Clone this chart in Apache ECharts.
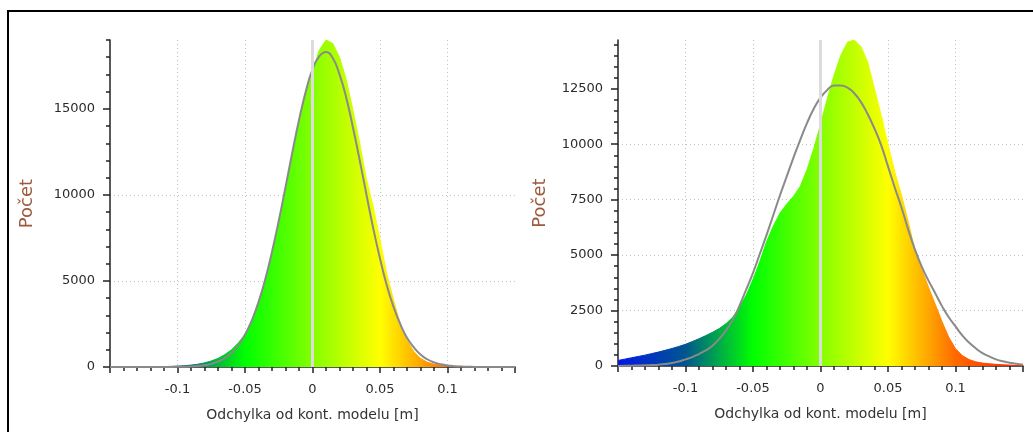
<!DOCTYPE html>
<html>
<head>
<meta charset="utf-8">
<script src="https://cdn.jsdelivr.net/npm/echarts@6/dist/echarts.min.js"></script>
<style>
  html, body { margin: 0; padding: 0; background: #fff; }
  #main { width: 1033px; height: 432px; }
</style>
</head>
<body>
<div id="main"></div>
<script>
var chartDom = document.getElementById('main');
var myChart = echarts.init(chartDom);
var option;

// bin centres [m], shared by both histograms
var binCenters = [
  -0.15, -0.145, -0.14, -0.135, -0.13, -0.125, -0.12, -0.115, -0.11, -0.105,
  -0.1, -0.095, -0.09, -0.085, -0.08, -0.075, -0.07, -0.065, -0.06, -0.055,
  -0.05, -0.045, -0.04, -0.035, -0.03, -0.025, -0.02, -0.015, -0.01, -0.005,
  0,
  0.005, 0.01, 0.015, 0.02, 0.025, 0.03, 0.035, 0.04, 0.045, 0.05,
  0.055, 0.06, 0.065, 0.07, 0.075, 0.08, 0.085, 0.09, 0.095, 0.1,
  0.105, 0.11, 0.115, 0.12, 0.125, 0.13, 0.135, 0.14, 0.145, 0.15
];

// left chart
var leftCounts = [
  1, 2, 3, 4, 6, 9, 12, 18, 25, 35,
  50, 75, 110, 160, 240, 350, 500, 720, 1000, 1400,
  1900, 2700, 3750, 5000, 6600, 8300, 10300, 12300, 14200, 15900,
  17200,
  18400, 19000, 18800, 18000, 16700, 14900, 13000, 10900, 9300, 7400,
  5400, 3900, 2500, 1550, 900, 500, 280, 160, 100, 65,
  45, 32, 22, 16, 11, 8, 6, 4, 3, 2
];
var leftFit = [
  0, 0, 0, 0, 0, 0, 1, 2, 3, 5,
  8, 16, 30, 60, 100, 180, 310, 510, 810, 1250,
  1870, 2700, 3770, 5100, 6700, 8500, 10450, 12450, 14350, 16000,
  17300,
  18050, 18300, 17950, 17000, 15650, 13900, 12000, 10000, 8050, 6300,
  4750, 3500, 2500, 1700, 1150, 730, 450, 270, 160, 90,
  50, 25, 15, 7, 3, 2, 1, 0, 0, 0
];

// right chart
var rightCounts = [
  250, 310, 370, 430, 490, 560, 630, 710, 790, 880,
  980, 1100, 1230, 1370, 1520, 1690, 1910, 2200, 2650, 3200,
  3900, 4700, 5600, 6300, 6900, 7300, 7650, 8100, 8850, 9800,
  10900,
  12050, 13100, 14000, 14600, 14700, 14400, 13700, 12500, 11300, 10000,
  8750, 7700, 6500, 5200, 4350, 3550, 2780, 2000, 1300, 780,
  470, 290, 190, 130, 100, 75, 55, 40, 25, 15
];
var rightFit = [
  5, 10, 15, 22, 30, 45, 60, 90, 140, 200,
  300, 400, 540, 700, 915, 1220, 1600, 2080, 2720, 3450,
  4200, 5050, 5900, 6800, 7700, 8550, 9400, 10200, 10950, 11600,
  12100,
  12450, 12650, 12650, 12550, 12300, 11900, 11350, 10700, 9950, 9000,
  8050, 7150, 6150, 5250, 4480, 3850, 3280, 2700, 2200, 1790,
  1380, 1060, 800, 580, 430, 300, 210, 150, 100, 60
];

// y axis ticks
var leftMax = 19000;
var leftLabels = [0, 5000, 10000, 15000];
var leftMinor = [0, 1000, 2000, 3000, 4000, 5000, 6000, 7000, 8000, 9000, 10000,
  11000, 12000, 13000, 14000, 15000, 16000, 17000, 18000, 19000];
var rightMax = 14700;
var rightLabels = [0, 2500, 5000, 7500, 10000, 12500];
var rightMinor = [0, 500, 1000, 1500, 2000, 2500, 3000, 3500, 4000, 4500, 5000,
  5500, 6000, 6500, 7000, 7500, 8000, 8500, 9000, 9500, 10000, 10500, 11000,
  11500, 12000, 12500, 13000, 13500, 14000, 14500];

var font = 'DejaVu Sans';
var axisColor = '#222';
var gridDots = { color: '#c2c2c2', width: 1, type: [1, 3] };

function pairs(ys) {
  return binCenters.map(function (x, i) {
    return [x, ys[i]];
  });
}

function plain(value) {
  return String(value);
}

function xAxisFor(gridIndex) {
  return {
    type: 'value',
    gridIndex: gridIndex,
    min: -0.15,
    max: 0.15,
    interval: 0.05,
    axisLine: { onZero: false, lineStyle: { color: axisColor, width: 1.5 } },
    axisTick: { length: 6, lineStyle: { color: axisColor, width: 1.5 } },
    minorTick: { show: true, splitNumber: 5, length: 4, lineStyle: { color: axisColor, width: 1.5 } },
    axisLabel: { showMinLabel: false, showMaxLabel: false, margin: 16, color: '#2b2b2b', fontSize: 13, fontFamily: font, formatter: plain },
    splitLine: { show: true, showMinLine: false, showMaxLine: false, lineStyle: gridDots },
    minorSplitLine: { show: false },
    name: 'Odchylka od kont. modelu [m]',
    nameLocation: 'middle',
    nameGap: 41,
    nameTextStyle: { color: '#333', fontSize: 14, fontFamily: font }
  };
}

function yAxisFor(gridIndex, max, step, labels, gap) {
  return {
    type: 'value',
    gridIndex: gridIndex,
    position: 'left',
    min: 0,
    max: max,
    interval: step,
    axisLine: { show: true, onZero: false, lineStyle: { color: axisColor, width: 1.5 } },
    axisTick: { show: true, length: 7, customValues: labels, lineStyle: { color: axisColor, width: 1.5 } },
    axisLabel: { customValues: labels, margin: 15, color: '#2b2b2b', fontSize: 13, fontFamily: font, formatter: plain },
    splitLine: { show: true, showMinLine: false, showMaxLine: false, lineStyle: gridDots },
    name: 'Počet',
    nameLocation: 'middle',
    nameRotate: 90,
    nameGap: gap,
    nameTextStyle: { color: '#9c5a3c', fontSize: 18, fontFamily: font }
  };
}

function minorYAxisFor(gridIndex, max, ticks) {
  return {
    type: 'value',
    gridIndex: gridIndex,
    position: 'left',
    min: 0,
    max: max,
    axisLine: { show: false, onZero: false },
    axisTick: { show: true, length: 4, customValues: ticks, lineStyle: { color: axisColor, width: 1.5 } },
    axisLabel: { show: false },
    splitLine: { show: false }
  };
}

function histSeries(xi, yi, counts) {
  return {
    type: 'line',
    xAxisIndex: xi,
    yAxisIndex: yi,
    data: pairs(counts),
    symbol: 'none',
    lineStyle: { width: 1 },
    areaStyle: { opacity: 1 },
    silent: true,
    z: 2
  };
}

function fitSeries(xi, yi, values) {
  return {
    type: 'line',
    xAxisIndex: xi,
    yAxisIndex: yi,
    data: pairs(values),
    symbol: 'none',
    smooth: true,
    itemStyle: { color: '#8a8a8a' },
    lineStyle: { color: '#8a8a8a', width: 2 },
    silent: true,
    z: 3
  };
}

function zeroLine(xi, yi) {
  return {
    type: 'line',
    xAxisIndex: xi,
    yAxisIndex: yi,
    data: [],
    silent: true,
    z: 1,
    markLine: {
      silent: true,
      symbol: ['none', 'none'],
      label: { show: false },
      lineStyle: { color: '#dcdcdc', width: 3, type: 'solid' },
      data: [{ xAxis: 0 }]
    }
  };
}

option = {
  animation: false,
  backgroundColor: '#fff',
  grid: [
    { left: 110, top: 40, width: 405, height: 327, outerBoundsMode: 'none' },
    { left: 618, top: 40, width: 405, height: 326, outerBoundsMode: 'none' }
  ],
  xAxis: [xAxisFor(0), xAxisFor(1)],
  yAxis: [
    yAxisFor(0, leftMax, 5000, leftLabels, 74),
    minorYAxisFor(0, leftMax, leftMinor),
    yAxisFor(1, rightMax, 2500, rightLabels, 69),
    minorYAxisFor(1, rightMax, rightMinor)
  ],
  visualMap: [
    {
      type: 'continuous',
      show: false,
      dimension: 0,
      seriesIndex: [0, 3],
      min: -0.15,
      max: 0.15,
      inRange: {
        color: ['#0018e8', '#00568f', '#00ff00', '#84ff00', '#ffff00', '#ff6a00', '#ff1e00']
      }
    }
  ],
  series: [
    histSeries(0, 0, leftCounts),
    fitSeries(0, 0, leftFit),
    zeroLine(0, 0),
    histSeries(1, 2, rightCounts),
    fitSeries(1, 2, rightFit),
    zeroLine(1, 2)
  ],
  graphic: [
    {
      type: 'rect',
      shape: { x: 8, y: 11, width: 1200, height: 600 },
      style: { fill: 'none', stroke: '#000', lineWidth: 2 },
      silent: true,
      z: 100
    }
  ]
};

option && myChart.setOption(option);
</script>
</body>
</html>
